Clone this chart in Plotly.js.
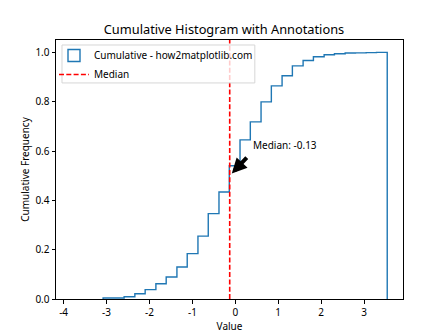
<!DOCTYPE html>
<html>
<head>
<meta charset="utf-8">
<script src="https://cdn.plot.ly/plotly-3.0.1.min.js"></script>
<style>html,body{margin:0;padding:0;background:#fff}#chart{width:448px;height:336px}</style>
</head>
<body>
<div id="chart"></div>
<script>
// Histogram bin edges (30 bins)
const binEdges = [-3.81, -3.57, -3.32, -3.08, -2.83, -2.59, -2.34, -2.10, -1.85, -1.61,
  -1.36, -1.12, -0.87, -0.63, -0.38, -0.14, 0.11, 0.35, 0.60, 0.84,
  1.09, 1.33, 1.58, 1.82, 2.07, 2.31, 2.56, 2.80, 3.05, 3.29, 3.54];
// Cumulative frequency at the end of each bin
const cumFreq = [0, 0, 0, 0.004, 0.004, 0.009, 0.021, 0.038, 0.062, 0.089,
  0.130, 0.184, 0.255, 0.346, 0.434, 0.54, 0.645, 0.718, 0.799, 0.864,
  0.905, 0.945, 0.967, 0.982, 0.990, 0.994, 0.997, 0.998, 0.999, 1.0];
const medianValue = -0.13;
const histLabel = 'Cumulative - how2matplotlib.com';
const medianLabel = 'Median';
const annotationText = 'Median: -0.13';
const xTicks = [-4, -3, -2, -1, 0, 1, 2, 3];
const yTicks = [0, 0.2, 0.4, 0.6, 0.8, 1.0];

// Build step outline (matplotlib histtype='step'); the zero run along the bottom is hidden under the spine
let k = cumFreq.findIndex(v => v > 0);
const sx = [binEdges[k]], sy = [0];
for (let i = k; i < cumFreq.length; i++) { sx.push(binEdges[i]); sy.push(cumFreq[i]); }
sx.push(binEdges[binEdges.length - 1]); sy.push(cumFreq[cumFreq.length - 1]);
sx.push(binEdges[binEdges.length - 1]); sy.push(0);

const xmin = binEdges[0], xmax = binEdges[binEdges.length - 1];
const xpad = 0.05 * (xmax - xmin);
const ymax = Math.max(...cumFreq) * 1.05;

const font = 'Noto Sans, Open Sans, DejaVu Sans, sans-serif';
const traces = [
  { type: 'scatter', mode: 'lines', x: sx, y: sy, name: histLabel,
    line: { shape: 'hv', color: '#1f77b4', width: 1.4 }, showlegend: false, hoverinfo: 'skip' },
  { type: 'bar', x: [null], y: [null], name: histLabel,
    marker: { color: 'rgba(0,0,0,0)', line: { color: '#1f77b4', width: 1.4 } }, showlegend: true },
  { type: 'scatter', mode: 'lines', x: [medianValue, medianValue], y: [0, ymax], name: medianLabel,
    line: { color: '#ff0000', width: 1.6, dash: '5px,2.3px' } }
];

const layout = {
  width: 448, height: 336,
  margin: { l: 56, r: 44.7, t: 40, b: 36.7 },
  paper_bgcolor: '#fff', plot_bgcolor: '#fff',
  font: { family: font, size: 10, color: '#000' },
  title: { text: 'Cumulative Histogram with Annotations', font: { family: font, size: 12.8, color: '#000' },
    x: 0.5, xanchor: 'center', y: 1 - 30 / 336, yanchor: 'middle' },
  xaxis: {
    range: [xmin - xpad, xmax + xpad], tickvals: xTicks, ticktext: xTicks.map(String),
    showgrid: false, zeroline: false, showline: true, mirror: true, linecolor: '#000', linewidth: 1,
    ticks: 'outside', ticklen: 3.5, tickwidth: 1, tickcolor: '#000',
    title: { text: 'Value', font: { family: font, size: 10 }, standoff: 4 }
  },
  yaxis: {
    range: [0, ymax], tickvals: yTicks, ticktext: yTicks.map(v => v.toFixed(1)),
    showgrid: false, zeroline: false, showline: true, mirror: true, linecolor: '#000', linewidth: 1,
    ticks: 'outside', ticklen: 3.5, tickwidth: 1, tickcolor: '#000',
    title: { text: 'Cumulative Frequency', font: { family: font, size: 10 }, standoff: 3 }
  },
  legend: {
    x: -2 / 347.3, y: (299.3 - 41) / 259.3, xanchor: 'left', yanchor: 'top',
    bgcolor: 'rgba(0,0,0,0)', borderwidth: 0,
    font: { family: font, size: 10, color: '#000' }, itemwidth: 30, tracegroupgap: 0
  },
  showlegend: true,
  shapes: [
    { type: 'rect', xref: 'paper', yref: 'paper', x0: 6 / 347.3, x1: 199 / 347.3,
      y0: (299.3 - 83) / 259.3, y1: (299.3 - 45) / 259.3,
      line: { color: '#d6d6d6', width: 1 }, fillcolor: 'rgba(255,255,255,0.8)', layer: 'above' }
  ],
  annotations: [
    { x: medianValue, y: 0.5, xref: 'x', yref: 'y', ax: medianValue + 0.43, ay: 0.579, axref: 'x', ayref: 'y',
      text: '', showarrow: true, arrowhead: 2, arrowsize: 0.75, arrowwidth: 4, arrowcolor: '#000', standoff: 3 },
    { x: medianValue + 0.5, y: 0.6, xref: 'x', yref: 'y', text: annotationText, showarrow: false,
      xanchor: 'left', yanchor: 'bottom', font: { family: font, size: 10, color: '#000' }, yshift: -3 }
  ]
};

Plotly.newPlot('chart', traces, layout, { displayModeBar: false, staticPlot: true });
</script>
</body>
</html>
